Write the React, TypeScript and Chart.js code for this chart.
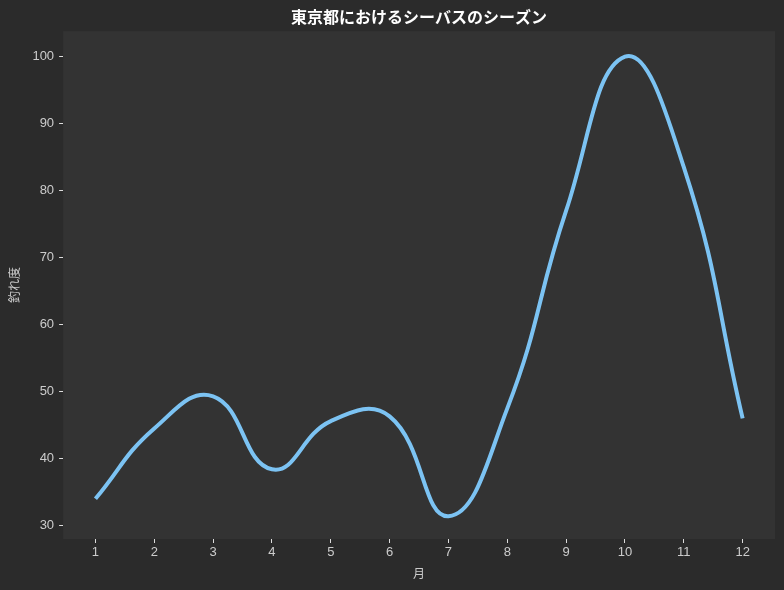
import React, { useEffect, useRef } from "react";
import { Chart, registerables } from "chart.js";

Chart.register(...registerables);

const months = [1, 2, 3, 4, 5, 6, 7, 8, 9, 10, 11, 12];
const catchRate = [34, 44.5, 49.3, 38.4, 45.6, 46.3, 31.4, 47.5, 77, 100, 83.5, 46];
const xTicks = [1, 2, 3, 4, 5, 6, 7, 8, 9, 10, 11, 12];
const yTicks = [30, 40, 50, 60, 70, 80, 90, 100];
const titleText = "東京都におけるシーバスのシーズン";
const xTitle = "月";
const yTitle = "釣れ度";

const plotBg = {
  id: "plotBg",
  beforeDraw(chart: any) {
    const { ctx, chartArea } = chart;
    ctx.save();
    ctx.fillStyle = "#333333";
    ctx.fillRect(chartArea.left, chartArea.top, chartArea.right - chartArea.left, chartArea.bottom - chartArea.top);
    ctx.restore();
  },
};

export default function App() {
  const ref = useRef<HTMLCanvasElement | null>(null);
  useEffect(() => {
    document.body.style.margin = "0";
    const tickFont = { family: "'Liberation Sans', 'Noto Sans CJK JP', sans-serif", size: 13 };
    const titleFont = { family: "'Noto Sans CJK JP', sans-serif", size: 12 };
    const chart = new Chart(ref.current as HTMLCanvasElement, {
      type: "line",
      data: {
        datasets: [
          {
            data: months.map((m, i) => ({ x: m, y: catchRate[i] })),
            borderColor: "#7cc3f3",
            borderWidth: 4,
            pointRadius: 0,
            tension: 0.45,
            fill: false,
          },
        ],
      },
      options: {
        responsive: false,
        animation: false,
        devicePixelRatio: 1,
        layout: { padding: { left: 7, right: 9, top: 0, bottom: 9 } },
        plugins: {
          legend: { display: false },
          tooltip: { enabled: false },
          title: {
            display: true,
            text: titleText,
            color: "#ffffff",
            fullSize: false,
            font: { family: "'Noto Sans CJK JP', sans-serif", size: 16, weight: "bold" },
            padding: { top: 7, bottom: 5 },
          },
        },
        scales: {
          x: {
            type: "linear",
            min: 0.45,
            max: 12.55,
            afterBuildTicks: (axis: any) => {
              axis.ticks = xTicks.map((v) => ({ value: v }));
            },
            ticks: { color: "#cccccc", font: tickFont, padding: 2, maxRotation: 0 },
            grid: { display: true, drawOnChartArea: false, drawTicks: true, tickLength: 4, tickColor: "#dddddd", tickWidth: 1 },
            border: { display: false },
            title: {
              display: true,
              text: xTitle,
              color: "#cccccc",
              font: titleFont,
              padding: { top: 4, bottom: 0 },
            },
          },
          y: {
            type: "linear",
            min: 28.0,
            max: 103.8,
            afterBuildTicks: (axis: any) => {
              axis.ticks = yTicks.map((v) => ({ value: v }));
            },
            ticks: { color: "#cccccc", font: tickFont, padding: 5 },
            grid: { display: true, drawOnChartArea: false, drawTicks: true, tickLength: 4, tickColor: "#dddddd", tickWidth: 1 },
            border: { display: false },
            title: {
              display: true,
              text: yTitle,
              color: "#cccccc",
              font: titleFont,
              padding: { top: 0, bottom: 6 },
            },
          },
        },
      },
      plugins: [plotBg],
    });
    return () => chart.destroy();
  }, []);
  return (
    <div style={{ width: 784, height: 590, background: "#2b2b2b" }}>
      <canvas ref={ref} width={784} height={590} />
    </div>
  );
}
